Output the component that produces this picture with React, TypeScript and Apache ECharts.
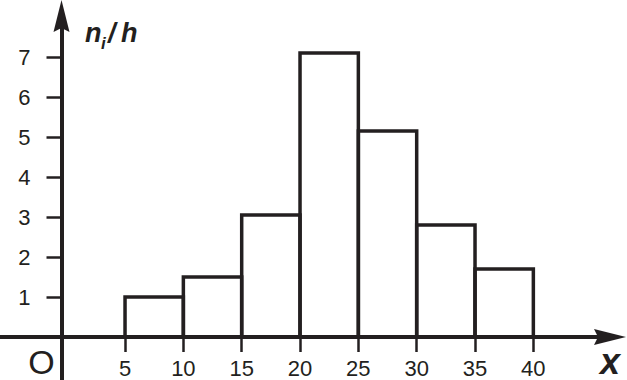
import React, { useEffect, useRef } from "react";
import * as echarts from "echarts";

// Histogram data (class limits and n_i/h values)
const binStart = [5, 10, 15, 20, 25, 30, 35];
const binEnd = [10, 15, 20, 25, 30, 35, 40];
const density = [1, 1.5, 3.05, 7.1, 5.15, 2.8, 1.7];

// Axis tick labels
const xTickValues = [5, 10, 15, 20, 25, 30, 35, 40];
const yTickValues = [1, 2, 3, 4, 5, 6, 7];

const INK = "#231f20";
const FONT = "'Liberation Sans', Arial, sans-serif";
const ARROW = "path://M8,0 L16,32 L8,28 L0,32 Z";

export default function App() {
  const ref = useRef<HTMLDivElement>(null);

  useEffect(() => {
    if (!ref.current) return;
    const chart = echarts.init(ref.current, null, { renderer: "svg" });
    const data = binStart.map((s, i) => [s, binEnd[i], density[i]]);

    chart.setOption({
      animation: false,
      backgroundColor: "#ffffff",
      grid: {
        left: 0,
        right: 17,
        top: 16,
        bottom: 0,
        containLabel: false,
        outerBoundsMode: "none",
      },
      xAxis: {
        type: "value",
        min: -5.717,
        max: 46.57,
        position: "bottom",
        offset: -43,
        splitLine: { show: false },
        axisLine: {
          onZero: false,
          lineStyle: { color: INK, width: 4 },
          symbol: ["none", ARROW],
          symbolSize: [16, 32],
        },
        axisTick: {
          show: true,
          length: 15,
          customValues: xTickValues,
          lineStyle: { color: INK, width: 2.5 },
        },
        axisLabel: {
          customValues: xTickValues,
          margin: 20,
          color: INK,
          fontSize: 22,
          fontFamily: FONT,
        },
      },
      yAxis: {
        type: "value",
        min: -1.075,
        max: 8.025,
        position: "left",
        offset: -61.5,
        splitLine: { show: false },
        axisLine: {
          onZero: false,
          lineStyle: { color: INK, width: 4 },
          symbol: ["none", ARROW],
          symbolSize: [16, 32],
        },
        axisTick: {
          show: true,
          length: 15,
          customValues: yTickValues,
          lineStyle: { color: INK, width: 2.5 },
        },
        axisLabel: {
          customValues: yTickValues,
          margin: 31,
          color: INK,
          fontSize: 22,
          fontFamily: FONT,
        },
      },
      series: [
        {
          type: "custom",
          data,
          encode: { x: [0, 1], y: 2 },
          renderItem: (params: any, api: any) => {
            const x0 = api.value(0);
            const x1 = api.value(1);
            const h = api.value(2);
            const p0 = api.coord([x0, 0]);
            const p1 = api.coord([x1, h]);
            return {
              type: "rect",
              shape: {
                x: p0[0],
                y: p1[1],
                width: p1[0] - p0[0],
                height: p0[1] - p1[1],
              },
              style: { fill: "none", stroke: INK, lineWidth: 3.5 },
            };
          },
        },
      ],
      graphic: [
        {
          type: "text",
          x: 41.5,
          y: 362,
          style: {
            text: "O",
            fill: INK,
            font: `34px ${FONT}`,
            align: "center",
            verticalAlign: "middle",
          },
        },
        {
          type: "text",
          x: 610,
          y: 361,
          style: {
            text: "x",
            fill: INK,
            font: `italic bold 36px ${FONT}`,
            align: "center",
            verticalAlign: "middle",
          },
        },
        {
          type: "text",
          x: 85,
          y: 32.5,
          style: {
            text: "n",
            fill: INK,
            font: `italic bold 27px ${FONT}`,
            align: "left",
            verticalAlign: "middle",
          },
        },
        {
          type: "text",
          x: 101,
          y: 43,
          style: {
            text: "i",
            fill: INK,
            font: `italic bold 17px ${FONT}`,
            align: "left",
            verticalAlign: "middle",
          },
        },
        {
          type: "text",
          x: 108,
          y: 32.5,
          style: {
            text: "/",
            fill: INK,
            font: `italic bold 27px ${FONT}`,
            align: "left",
            verticalAlign: "middle",
          },
        },
        {
          type: "text",
          x: 121,
          y: 32.5,
          style: {
            text: "h",
            fill: INK,
            font: `italic bold 27px ${FONT}`,
            align: "left",
            verticalAlign: "middle",
          },
        },
      ],
    });

    return () => chart.dispose();
  }, []);

  return (
    <div
      ref={ref}
      style={{ position: "fixed", left: 0, top: 0, width: 627, height: 380 }}
    />
  );
}
